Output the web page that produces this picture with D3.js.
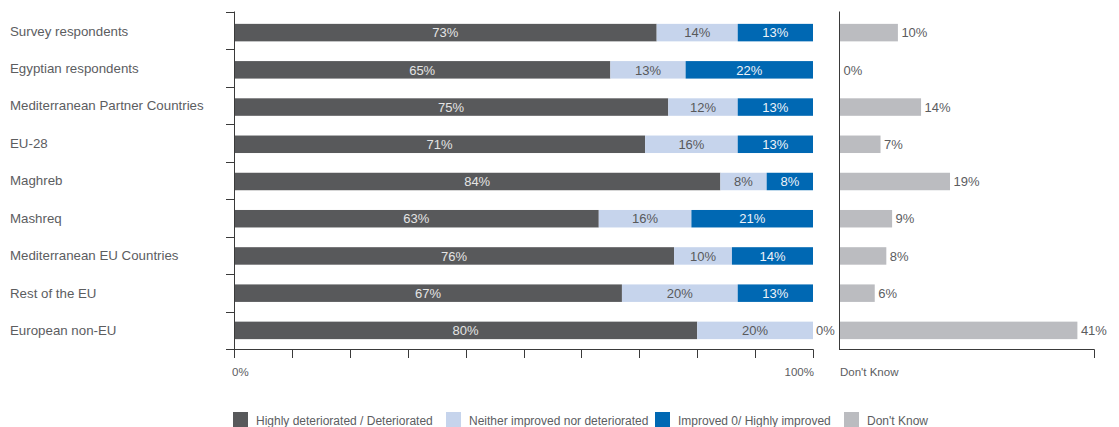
<!DOCTYPE html>
<html>
<head>
<meta charset="utf-8">
<script src="https://cdn.jsdelivr.net/npm/d3@7"></script>
<style>
  html, body { margin: 0; padding: 0; background: #fff; }
  svg { display: block; font-family: "Liberation Sans", Arial, sans-serif; }
</style>
</head>
<body>
<svg id="chart" width="1119" height="427"></svg>
<script>
const categories = [
  "Survey respondents",
  "Egyptian respondents",
  "Mediterranean Partner Countries",
  "EU-28",
  "Maghreb",
  "Mashreq",
  "Mediterranean EU Countries",
  "Rest of the EU",
  "European non-EU"
];
const deteriorated = [73, 65, 75, 71, 84, 63, 76, 67, 80];
const neither      = [14, 13, 12, 16, 8, 16, 10, 20, 20];
const improved     = [13, 22, 13, 13, 8, 21, 14, 13, 0];
const dontKnow     = [10, 0, 14, 7, 19, 9, 8, 6, 41];
const seriesNames  = ["Highly deteriorated / Deteriorated", "Neither improved nor deteriorated", "Improved 0/ Highly improved", "Don't Know"];
const xTickValues  = [0, 10, 20, 30, 40, 50, 60, 70, 80, 90, 100];

const colors = ["#58595b", "#c6d4ec", "#0068b3", "#bbbcc0"];
const labelColors = ["#e4e4e4", "#58595b", "#eef2f8"];
const textColor = "#5c5d5f";

const svg = d3.select("#chart");

const x = d3.scaleLinear().domain([0, 100]).range([234, 813]);
const pxPerPct = (813 - 234) / 100;
const xr = d3.scaleLinear().domain([0, 44]).range([839.5, 839.5 + 44 * pxPerPct]);

const yTick = d3.scaleBand().domain(categories).range([12, 349]);
const yBar = d3.scaleBand().domain(categories).range([14, 349]).paddingInner(0.53).paddingOuter(0.265);

// stacked data
const rows = categories.map((c, i) => ({ cat: c, vals: [deteriorated[i], neither[i], improved[i]] }));
const stack = d3.stack().keys([0, 1, 2]).value((d, k) => d.vals[k]);
const layers = stack(rows);

const g = svg.append("g");

layers.forEach((layer, k) => {
  g.selectAll(null).data(layer).enter().append("rect")
    .attr("x", d => x(d[0]))
    .attr("y", d => yBar(d.data.cat))
    .attr("width", d => x(d[1]) - x(d[0]))
    .attr("height", yBar.bandwidth())
    .attr("fill", colors[k]);
  g.selectAll(null).data(layer).enter().append("text")
    .attr("x", d => d[1] - d[0] > 0 ? (x(d[0]) + x(d[1])) / 2 : x(d[1]) + 3)
    .attr("y", d => yBar(d.data.cat) + yBar.bandwidth() / 2)
    .attr("dy", "0.36em")
    .attr("text-anchor", d => d[1] - d[0] > 0 ? "middle" : "start")
    .attr("font-size", "13px")
    .attr("fill", d => d[1] - d[0] > 0 ? labelColors[k] : textColor)
    .text(d => (d[1] - d[0]) + "%");
});

// don't know bars
g.selectAll(null).data(categories).enter().append("rect")
  .attr("x", xr(0) + 0.5)
  .attr("y", c => yBar(c))
  .attr("width", (c, i) => Math.max(0, xr(dontKnow[i]) - xr(0)))
  .attr("height", yBar.bandwidth())
  .attr("fill", colors[3]);
g.selectAll(null).data(categories).enter().append("text")
  .attr("x", (c, i) => xr(dontKnow[i]) + 4)
  .attr("y", c => yBar(c) + yBar.bandwidth() / 2)
  .attr("dy", "0.36em")
  .attr("font-size", "13px")
  .attr("fill", textColor)
  .text((c, i) => dontKnow[i] + "%");

// category labels
g.selectAll(null).data(categories).enter().append("text")
  .attr("x", 10)
  .attr("y", c => yTick(c) + yTick.bandwidth() / 2)
  .attr("dy", "0.36em")
  .attr("font-size", "13.3px")
  .attr("fill", textColor)
  .text(c => c);

// axes
const axisColor = "#3a3a3a";
g.append("line").attr("x1", 234.5).attr("x2", 234.5).attr("y1", 11.5).attr("y2", 349)
  .attr("stroke", axisColor);
const yTicks = categories.map(c => yTick(c)).concat([yTick.range()[1]]);
g.selectAll(null).data(yTicks).enter().append("line")
  .attr("x1", 226).attr("x2", 234.5)
  .attr("y1", d => Math.round(d) + 0.5).attr("y2", d => Math.round(d) + 0.5)
  .attr("stroke", axisColor);
g.append("line").attr("x1", 234).attr("x2", 813.5).attr("y1", 349.5).attr("y2", 349.5)
  .attr("stroke", axisColor);
g.selectAll(null).data(xTickValues).enter().append("line")
  .attr("x1", d => Math.round(x(d)) + 0.5).attr("x2", d => Math.round(x(d)) + 0.5)
  .attr("y1", 349.5).attr("y2", 358)
  .attr("stroke", axisColor);
g.append("text").attr("x", 232).attr("y", 376).attr("font-size", "11.5px").attr("fill", textColor).text(xTickValues[0] + "%");
g.append("text").attr("x", 814).attr("y", 376).attr("text-anchor", "end").attr("font-size", "11.5px").attr("fill", textColor).text(xTickValues[xTickValues.length - 1] + "%");

// right panel axes
g.append("line").attr("x1", 839.5).attr("x2", 839.5).attr("y1", 11.5).attr("y2", 349)
  .attr("stroke", axisColor);
g.append("line").attr("x1", 839).attr("x2", Math.round(xr(44)) + 0.5).attr("y1", 349.5).attr("y2", 349.5)
  .attr("stroke", axisColor);
g.append("line").attr("x1", Math.round(xr(44)) + 0.5).attr("x2", Math.round(xr(44)) + 0.5)
  .attr("y1", 349.5).attr("y2", 358).attr("stroke", axisColor);
g.append("text").attr("x", 840).attr("y", 376).attr("font-size", "11.5px").attr("fill", textColor).text(seriesNames[3]);

// legend
const legendX = [233, 446, 655, 844];
const lg = g.selectAll(null).data(seriesNames).enter().append("g")
  .attr("transform", (d, i) => `translate(${legendX[i]},412)`);
lg.append("rect").attr("width", 15).attr("height", 15).attr("fill", (d, i) => colors[i]);
lg.append("text").attr("x", 23).attr("y", 13).attr("font-size", "12px").attr("fill", textColor).text(d => d);
</script>
</body>
</html>
